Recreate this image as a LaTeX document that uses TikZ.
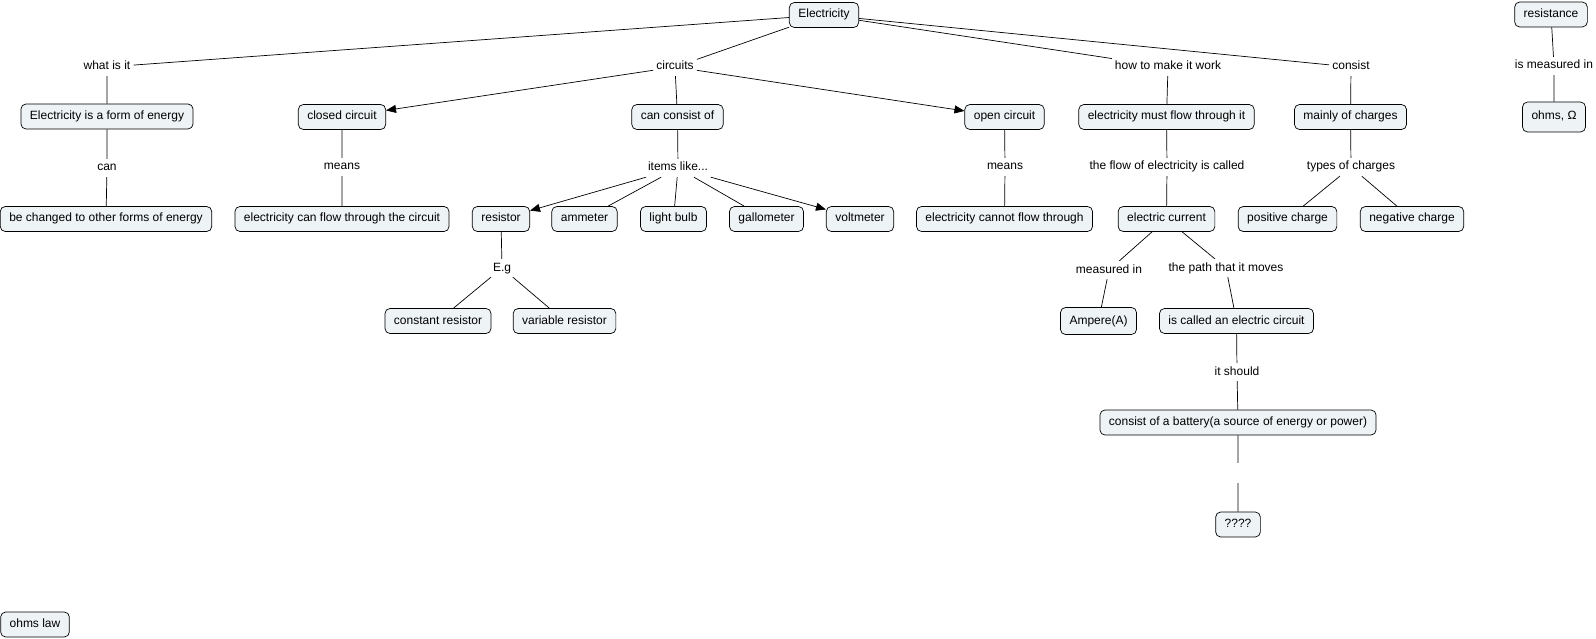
\documentclass[tikz,border=0pt]{standalone}
\usepackage{fontspec}
\setmainfont{Liberation Sans}
\usetikzlibrary{arrows.meta}
\definecolor{conceptfill}{RGB}{238,243,246}

\begin{document}
\begin{tikzpicture}[
    x = 1pt, y = -1pt,
    font = \fontsize{12}{14}\selectfont,
    concept/.style = {draw, rounded corners = 5pt, fill = conceptfill, line width = 0.7pt,
        inner xsep = 9pt, inner ysep = 0pt, minimum height = 25pt,
        text height = 9pt, text depth = 3pt},
    phrase/.style = {inner sep = 3pt, text height = 9pt, text depth = 3pt},
    link/.style = {line width = 0.7pt},
    arrow/.style = {link, -{Triangle[length = 10pt, width = 8pt]}}]

\useasboundingbox (0,0) rectangle (1596,639);

% concepts and linking phrases
\node[concept] (electricity) at (824,15) {Electricity};
\node[concept] (resistance) at (1551,14.5) {resistance};
\node[phrase] (measuredohm) at (1554,66) {is measured in};
\node[concept, minimum height = 30pt] (ohms) at (1554,117) {ohms, Ω};

\node[phrase] (whatis) at (107,67) {what is it};
\node[concept] (formenergy) at (107,116.5) {Electricity is a form of energy};
\node[phrase] (can) at (107,168) {can};
\node[concept] (changed) at (106,219) {be changed to other forms of energy};

\node[phrase] (circuits) at (675,67) {circuits};
\node[concept] (closed) at (342,117) {closed circuit};
\node[phrase] (meansclosed) at (342,167) {means};
\node[concept] (canflow) at (342,219) {electricity can flow through the circuit};
\node[concept] (consistof) at (677.5,117) {can consist of};
\node[phrase] (items) at (678,168) {items like...};
\node[concept] (resistor) at (501,219) {resistor};
\node[concept] (ammeter) at (584.5,219) {ammeter};
\node[concept] (bulb) at (673.5,219) {light bulb};
\node[concept] (gallometer) at (766.5,219) {gallometer};
\node[concept] (voltmeter) at (860,219) {voltmeter};
\node[phrase] (eg) at (502,268) {E.g};
\node[concept] (constant) at (438,321) {constant resistor};
\node[concept] (variable) at (564.5,321) {variable resistor};
\node[concept] (open) at (1004.5,117) {open circuit};
\node[phrase] (meansopen) at (1005,167) {means};
\node[concept] (cannotflow) at (1004.5,219) {electricity cannot flow through};

\node[phrase] (howto) at (1168,67) {how to make it work};
\node[concept] (mustflow) at (1166.5,117) {electricity must flow through it};
\node[phrase] (flowcalled) at (1167,167) {the flow of electricity is called};
\node[concept] (current) at (1166.5,219) {electric current};
\node[phrase] (measuredin) at (1109,270) {measured in};
\node[phrase] (path) at (1226,268) {the path that it moves};
\node[concept, minimum height = 27pt] (ampere) at (1098.5,321) {Ampere(A)};
\node[concept] (called) at (1236.5,321) {is called an electric circuit};
\node[phrase] (should) at (1237,372) {it should};
\node[concept] (battery) at (1238,422.5) {consist of a battery(a source of energy or power)};
\node[phrase, minimum height = 20pt] (blank) at (1238,473) {};
\node[concept] (unknown) at (1238,524.5) {????};

\node[phrase] (consist) at (1351,67) {consist};
\node[concept] (charges) at (1350.5,117) {mainly of charges};
\node[phrase] (types) at (1351,167) {types of charges};
\node[concept] (positive) at (1287.5,219) {positive charge};
\node[concept] (negative) at (1412,219) {negative charge};

\node[concept] (ohmslaw) at (35,624.5) {ohms law};

% links
\draw[link] (electricity) -- (whatis)
      (whatis) -- (formenergy)
      (formenergy) -- (can)
      (can) -- (changed)
      (electricity) -- (circuits)
      (circuits) -- (consistof)
      (consistof) -- (items)
      (items) -- (ammeter)
      (items) -- (bulb)
      (items) -- (gallometer)
      (resistor) -- (eg)
      (eg) -- (constant)
      (eg) -- (variable)
      (closed) -- (meansclosed)
      (meansclosed) -- (canflow)
      (open) -- (meansopen)
      (meansopen) -- (cannotflow)
      (electricity) -- (howto)
      (howto) -- (mustflow)
      (mustflow) -- (flowcalled)
      (flowcalled) -- (current)
      (current) -- (measuredin)
      (measuredin) -- (ampere)
      (current) -- (path)
      (path) -- (called)
      (called) -- (should)
      (should) -- (battery)
      (battery) -- (blank)
      (blank) -- (unknown)
      (electricity) -- (consist)
      (consist) -- (charges)
      (charges) -- (types)
      (types) -- (positive)
      (types) -- (negative)
      (resistance) -- (measuredohm)
      (measuredohm) -- (ohms)
      ;
\draw[arrow] (circuits) -- (closed);
\draw[arrow] (circuits) -- (open);
\draw[arrow] (items) -- (resistor);
\draw[arrow] (items) -- (voltmeter);
\end{tikzpicture}
\end{document}
